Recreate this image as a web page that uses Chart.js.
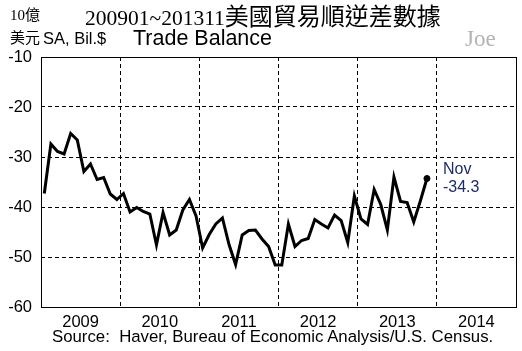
<!DOCTYPE html>
<html>
<head>
<meta charset="utf-8">
<script src="https://cdn.jsdelivr.net/npm/chart.js@4"></script>
<style>
  html, body { margin: 0; padding: 0; background: #fff; }
  #wrap { position: relative; width: 522px; height: 351px; }
  .lbl { position: absolute; white-space: nowrap; line-height: 1; color: #000; }
</style>
</head>
<body>
<div id="wrap">
  <canvas id="tradeChart" width="522" height="351"></canvas>
  <div class="lbl" style="left:85px;top:3px;"><span style="font-family:'Liberation Serif';font-size:21.5px;">200901~201311</span><span style="font-family:'Noto Sans CJK TC';font-size:24px;">美國貿易順逆差數據</span></div>
  <div class="lbl" style="left:10px;top:8px;font-family:'Liberation Serif','Noto Sans CJK TC';font-size:15px;">10億</div>
  <div class="lbl" style="left:10px;top:29px;font-family:'Noto Sans CJK TC';font-size:15px;">美元</div>
  <div class="lbl" style="left:43px;top:30px;font-family:'Liberation Sans';font-size:16.5px;">SA, Bil.$</div>
  <div class="lbl" style="left:133px;top:28px;font-family:'Liberation Sans';font-size:21.5px;">Trade Balance</div>
  <div class="lbl" style="left:465px;top:27px;font-family:'Liberation Serif';font-size:23px;color:#b4b4b4;">Joe</div>
  <div class="lbl" style="left:52px;top:329px;font-family:'Liberation Sans';font-size:16.8px;">Source:&nbsp; Haver, Bureau of Economic Analysis/U.S. Census.</div>
</div>
<script>
// 月度貿易差額 (十億美元), 2009/01 ~ 2013/11
const years = ['2009', '2010', '2011', '2012', '2013', '2014'];
const balance2009 = [-37.3, -27.4, -28.9, -29.4, -25.3, -26.6, -32.9, -31.4, -34.5, -34.1, -37.4, -38.5];
const balance2010 = [-37.3, -41.0, -40.1, -40.9, -41.4, -47.6, -41.1, -45.6, -44.6, -40.6, -38.5, -41.8];
const balance2011 = [-48.2, -45.5, -43.4, -42.2, -47.5, -51.5, -45.6, -44.7, -44.6, -46.4, -47.9, -51.6];
const balance2012 = [-51.6, -43.4, -47.9, -46.7, -46.3, -42.5, -43.4, -44.2, -41.6, -42.7, -47.1, -37.8];
const balance2013 = [-42.4, -43.5, -36.5, -39.5, -44.6, -34.0, -38.9, -39.1, -43.0, -38.8, -34.3];
const yTicks = [-10, -20, -30, -40, -50, -60];
const lastLabel = 'Nov';

const balance = [].concat(balance2009, balance2010, balance2011, balance2012, balance2013);
// 每月畫在月中
const points = balance.map((v, i) => ({ x: i + 0.5, y: v }));

const frame = {
    id: 'frame',
    afterDraw(chart) {
        const a = chart.chartArea;
        const c = chart.ctx;
        c.save();
        c.strokeStyle = '#000';
        c.lineWidth = 1;
        c.strokeRect(Math.round(a.left) + 0.5, Math.round(a.top) + 0.5, Math.round(a.right - a.left), Math.round(a.bottom - a.top));

        // 最後一點標註
        const meta = chart.getDatasetMeta(0);
        const p = meta.data[meta.data.length - 1];
        c.fillStyle = '#1c2c6a';
        c.font = '16px "Liberation Sans"';
        c.textBaseline = 'top';
        c.textAlign = 'left';
        c.fillText(lastLabel, p.x + 16, p.y - 17);
        c.fillText(balance[balance.length - 1].toFixed(1), p.x + 16, p.y + 1);
        c.restore();
    }
};

const ctx = document.getElementById('tradeChart').getContext('2d');
new Chart(ctx, {
    type: 'line',
    data: {
        datasets: [{
            data: points,
            borderColor: '#000',
            backgroundColor: '#000',
            borderWidth: 3,
            pointRadius: c => c.dataIndex === points.length - 1 ? 3 : 0,
            pointBorderWidth: 1,
            pointHoverRadius: 0,
            tension: 0
        }]
    },
    options: {
        responsive: false,
        animation: false,
        events: [],
        layout: { padding: { top: 57, right: 6, bottom: 0, left: 0 } },
        plugins: { legend: { display: false }, tooltip: { enabled: false } },
        scales: {
            x: {
                type: 'linear',
                min: 0,
                max: years.length * 12,
                afterBuildTicks: axis => {
                    const t = [];
                    for (let v = 0; v <= years.length * 12; v += 6) t.push({ value: v });
                    axis.ticks = t;
                },
                afterFit: axis => { axis.height = 44; },
                grid: {
                    drawTicks: false,
                    color: c => (c.tick && c.tick.value % 12 === 0 && c.tick.value > 0 && c.tick.value < years.length * 12) ? '#000' : 'rgba(0,0,0,0)',
                    lineWidth: 1
                },
                border: { display: false, dash: [4, 3] },
                ticks: {
                    autoSkip: false,
                    maxRotation: 0,
                    padding: 6,
                    color: '#000',
                    font: { family: 'Liberation Sans', size: 16.5 },
                    callback: v => v % 12 === 6 ? years[(v - 6) / 12] : ''
                }
            },
            y: {
                min: -60,
                max: -10,
                afterBuildTicks: axis => { axis.ticks = yTicks.map(v => ({ value: v })); },
                afterFit: axis => { axis.width = 41; },
                grid: {
                    drawTicks: false,
                    color: c => (c.tick && c.tick.value > -60 && c.tick.value < -10) ? '#000' : 'rgba(0,0,0,0)',
                    lineWidth: 1
                },
                border: { display: false, dash: [4, 3] },
                ticks: {
                    padding: 9,
                    color: '#000',
                    font: { family: 'Liberation Sans', size: 16.5 }
                }
            }
        }
    },
    plugins: [frame]
});
</script>
</body>
</html>
